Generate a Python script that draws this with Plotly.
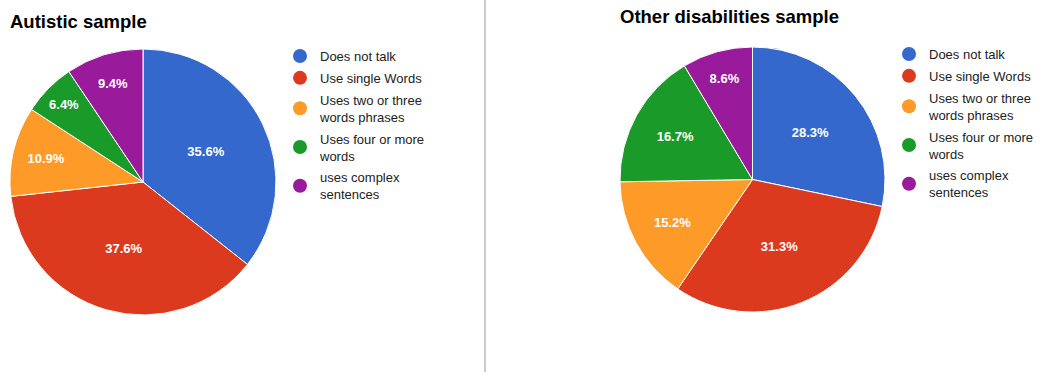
import plotly.graph_objects as go

categories = ["Does not talk", "Use single Words", "Uses two or three<br>words phrases",
              "Uses four or more<br>words", "uses complex<br>sentences"]
autistic_values = [35.6, 37.6, 10.9, 6.4, 9.4]
other_values = [28.3, 31.3, 15.2, 16.7, 8.6]
colors = ["#3568CC", "#DB3A1F", "#FD9A28", "#1A9A28", "#991A9A"]
titles = ["Autistic sample", "Other disabilities sample"]

W, H = 1041, 372
FONT = "Arial, 'Liberation Sans', sans-serif"

fig = go.Figure()

def px_x(v):
    return v / W

def px_y(v):
    return 1 - v / H

pie_domains = [
    dict(x=[px_x(10), px_x(276)], y=[px_y(315), px_y(49)]),
    dict(x=[px_x(620), px_x(885)], y=[px_y(312), px_y(47)]),
]

for i, vals in enumerate([autistic_values, other_values]):
    fig.add_trace(go.Pie(
        labels=categories, values=vals, sort=False, direction="clockwise", rotation=0,
        marker=dict(colors=colors, line=dict(color="white", width=1)),
        texttemplate="<b>%{percent:.1%}</b>", textposition="inside",
        insidetextorientation="horizontal",
        textfont=dict(color="white", size=13, family=FONT),
        domain=pie_domains[i], showlegend=False, hoverinfo="label+percent",
    ))
    leg = "legend" if i == 0 else "legend2"
    for k, (c, col) in enumerate(zip(categories, colors)):
        fig.add_trace(go.Scatter(
            x=[None], y=[None], mode="markers", name=c,
            marker=dict(color=col, size=14, symbol="circle"),
            legend=leg, showlegend=True, legendgroup=f"{leg}_{k}",
        ))

legend_common = dict(
    xanchor="left", yanchor="top", bgcolor="rgba(0,0,0,0)",
    font=dict(family=FONT, size=13, color="#222222"),
    tracegroupgap=2, itemwidth=30, traceorder="grouped",
)

fig.update_layout(
    width=W, height=H, margin=dict(l=0, r=0, t=0, b=0),
    paper_bgcolor="white", plot_bgcolor="white",
    xaxis=dict(visible=False), yaxis=dict(visible=False),
    legend=dict(x=px_x(280), y=px_y(41), **legend_common),
    legend2=dict(x=px_x(889), y=px_y(39), **legend_common),
    annotations=[
        dict(text=f"<b>{titles[0]}</b>", x=px_x(8), y=px_y(9), xref="paper", yref="paper",
             xanchor="left", yanchor="top", showarrow=False,
             font=dict(family=FONT, size=18.5, color="#000000")),
        dict(text=f"<b>{titles[1]}</b>", x=px_x(618), y=px_y(4), xref="paper", yref="paper",
             xanchor="left", yanchor="top", showarrow=False,
             font=dict(family=FONT, size=18.5, color="#000000")),
    ],
    shapes=[dict(type="line", xref="paper", yref="paper", x0=px_x(485), x1=px_x(485),
                 y0=0, y1=1, line=dict(color="#CCCCCC", width=2))],
)

fig.write_html("out.html")
